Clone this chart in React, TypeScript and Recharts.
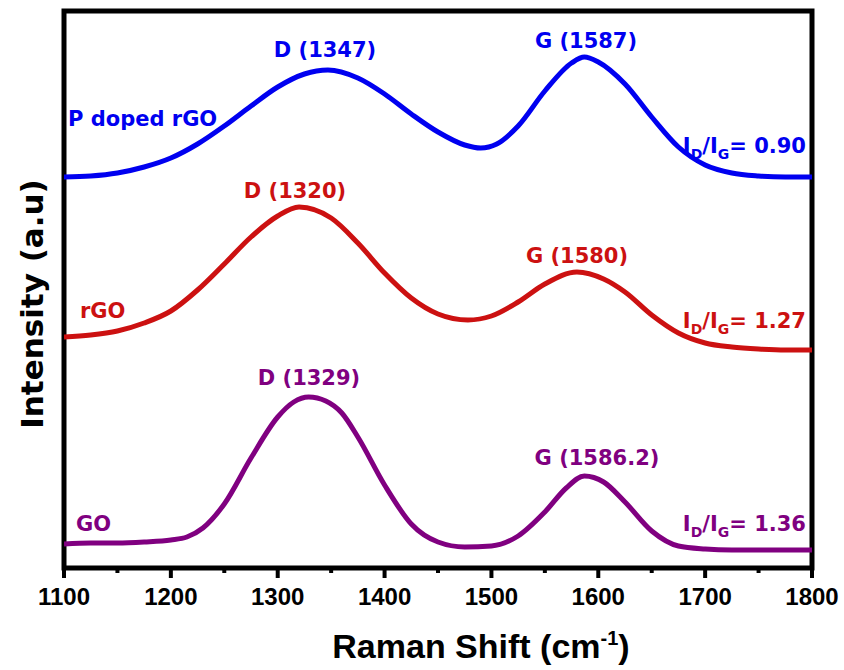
import { LineChart, Line, XAxis, YAxis, ReferenceArea } from "recharts";

// Raman shift (cm-1) sample points and intensities (a.u.)
const pDopedShift = [1100, 1125, 1150, 1175, 1200, 1225, 1250, 1275, 1300, 1325, 1347, 1375, 1400, 1425, 1450, 1475, 1490, 1505, 1525, 1550, 1575, 1587, 1600, 1625, 1650, 1675, 1700, 1725, 1750, 1775, 1800];
const pDopedIntensity = [391, 392, 395, 401, 410, 424, 442, 462, 481, 494, 498, 490, 474, 454, 436, 423, 420, 424, 442, 477, 505, 511, 506, 484, 451, 421, 403, 395, 392, 391, 391];

const rgoShift = [1100, 1125, 1150, 1175, 1200, 1225, 1250, 1275, 1300, 1320, 1350, 1375, 1400, 1425, 1450, 1478, 1500, 1525, 1550, 1580, 1605, 1625, 1650, 1675, 1700, 1725, 1750, 1775, 1800];
const rgoIntensity = [231, 233, 237, 245, 257, 278, 304, 331, 352, 361, 350, 325, 295, 270, 254, 248, 252, 266, 284, 296, 289, 276, 253, 235, 225, 221, 219, 218, 218];

const goShift = [1100, 1125, 1150, 1175, 1200, 1215, 1230, 1250, 1275, 1300, 1315, 1329, 1345, 1360, 1375, 1400, 1425, 1450, 1475, 1500, 1525, 1550, 1570, 1587, 1605, 1625, 1650, 1675, 1700, 1725, 1750, 1775, 1800];
const goIntensity = [24, 25, 25, 26, 28, 31, 40, 64, 110, 151, 166, 171, 167, 155, 131, 83, 44, 26, 21, 22, 32, 56, 80, 92, 86, 66, 37, 22, 19, 18, 18, 18, 18];

const xTicks = [1100, 1150, 1200, 1250, 1300, 1350, 1400, 1450, 1500, 1550, 1600, 1650, 1700, 1750, 1800];

const BLUE = "#0000f0";
const RED = "#cc1111";
const PURPLE = "#800080";

const toRows = (shift: number[], intensity: number[]) =>
  shift.map((s, i) => ({ shift: s, intensity: intensity[i] }));

const annoFont = "'DejaVu Sans', sans-serif";

function ShiftTick(props: any) {
  const { x, y, payload } = props;
  const major = payload.value % 100 === 0;
  return (
    <g>
      <line x1={x} y1={y} x2={x} y2={y + (major ? 10 : 5)} stroke="#000" strokeWidth={4} />
      {major && (
        <text
          x={x}
          y={y + 37}
          textAnchor="middle"
          fontFamily="'Liberation Sans', Arial, sans-serif"
          fontWeight="bold"
          fontSize={24}
          fill="#000"
        >
          {payload.value}
        </text>
      )}
    </g>
  );
}

function Ratio({ x, y, value, color }: { x: number; y: number; value: string; color: string }) {
  return (
    <text x={x} y={y} textAnchor="end" fontFamily={annoFont} fontWeight="bold" fontSize={21} fill={color}>
      I<tspan fontSize={14} dy={6}>D</tspan>
      <tspan dy={-6}>/I</tspan>
      <tspan fontSize={14} dy={6}>G</tspan>
      <tspan dy={-6}>= {value}</tspan>
    </text>
  );
}

export default function App() {
  return (
    <div style={{ position: "absolute", left: 0, top: 0, width: 844, height: 670, background: "#fff" }}>
      <LineChart width={844} height={670} margin={{ top: 11, right: 32, left: 64, bottom: 62 }}>
        <XAxis
          dataKey="shift"
          type="number"
          domain={[1100, 1800]}
          ticks={xTicks}
          interval={0}
          axisLine={false}
          tickLine={false}
          tickSize={0}
          tickMargin={0}
          height={40}
          tick={<ShiftTick />}
          allowDataOverflow
        />
        <YAxis type="number" domain={[0, 557]} hide allowDataOverflow />
        <Line data={toRows(pDopedShift, pDopedIntensity)} dataKey="intensity" type="monotone" stroke={BLUE} strokeWidth={5} dot={false} isAnimationActive={false} />
        <Line data={toRows(rgoShift, rgoIntensity)} dataKey="intensity" type="monotone" stroke={RED} strokeWidth={5} dot={false} isAnimationActive={false} />
        <Line data={toRows(goShift, goIntensity)} dataKey="intensity" type="monotone" stroke={PURPLE} strokeWidth={5} dot={false} isAnimationActive={false} />
        <ReferenceArea x1={1100} x2={1800} y1={0} y2={557} fill="none" stroke="#000" strokeWidth={5} />
      </LineChart>
      <svg
        width={844}
        height={670}
        style={{ position: "absolute", left: 0, top: 0, pointerEvents: "none" }}
      >
        {/* P doped rGO */}
        <text x={68} y={126} fontFamily={annoFont} fontWeight="bold" fontSize={21} fill={BLUE}>P doped rGO</text>
        <text x={325} y={57} textAnchor="middle" fontFamily={annoFont} fontWeight="bold" fontSize={21} fill={BLUE}>D (1347)</text>
        <text x={586} y={48} textAnchor="middle" fontFamily={annoFont} fontWeight="bold" fontSize={21} fill={BLUE}>G (1587)</text>
        <Ratio x={806} y={153} value="0.90" color={BLUE} />

        {/* rGO */}
        <text x={80} y={318} fontFamily={annoFont} fontWeight="bold" fontSize={21} fill={RED}>rGO</text>
        <text x={295} y={198} textAnchor="middle" fontFamily={annoFont} fontWeight="bold" fontSize={21} fill={RED}>D (1320)</text>
        <text x={577} y={263} textAnchor="middle" fontFamily={annoFont} fontWeight="bold" fontSize={21} fill={RED}>G (1580)</text>
        <Ratio x={806} y={328} value="1.27" color={RED} />

        {/* GO */}
        <text x={76} y={531} fontFamily={annoFont} fontWeight="bold" fontSize={21} fill={PURPLE}>GO</text>
        <text x={309} y={385} textAnchor="middle" fontFamily={annoFont} fontWeight="bold" fontSize={21} fill={PURPLE}>D (1329)</text>
        <text x={597} y={465} textAnchor="middle" fontFamily={annoFont} fontWeight="bold" fontSize={21} fill={PURPLE}>G (1586.2)</text>
        <Ratio x={806} y={531} value="1.36" color={PURPLE} />

        {/* axis titles */}
        <text
          x={43}
          y={304}
          transform="rotate(-90 43 304)"
          textAnchor="middle"
          fontFamily={annoFont}
          fontWeight="bold"
          fontSize={31}
          fill="#000"
        >
          Intensity (a.u)
        </text>
        <text
          x={481}
          y={658}
          textAnchor="middle"
          fontFamily="'Liberation Sans', Arial, sans-serif"
          fontWeight="bold"
          fontSize={34}
          fill="#000"
        >
          Raman Shift (cm<tspan fontSize={20} dy={-13}>-1</tspan>
          <tspan dy={13}>)</tspan>
        </text>
      </svg>
    </div>
  );
}
